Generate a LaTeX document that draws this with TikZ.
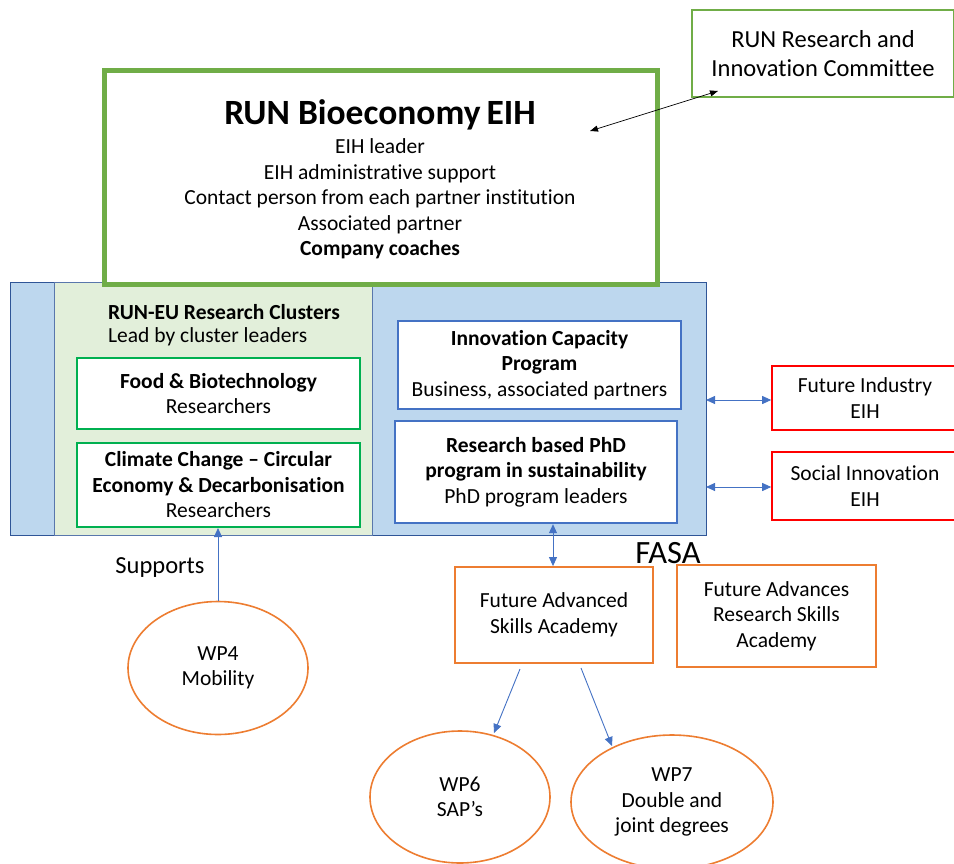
\documentclass[tikz,border=0pt]{standalone}
\usepackage{fontspec}
\setmainfont{Carlito}[Ligatures=NoCommon]
\usetikzlibrary{shapes.geometric,arrows.meta}
\definecolor{eihgreen}{HTML}{70AD47}
\definecolor{clgreen}{HTML}{00B050}
\definecolor{bblue}{HTML}{4472C4}
\definecolor{dblue}{HTML}{2F5597}
\definecolor{lblue}{HTML}{BDD7EE}
\definecolor{lgreen}{HTML}{E2EFDA}
\definecolor{oorange}{HTML}{ED7D31}
\definecolor{rred}{HTML}{FF0000}
\tikzset{
  txt/.style={font=\fontsize{21.5}{25.5}\selectfont, align=center, inner sep=0pt},
  boxbase/.style={txt, draw, fill=white, rectangle},
  clbox/.style={boxbase, draw=clgreen, line width=2pt},
  bbox/.style={boxbase, draw=bblue, line width=2.4pt},
  rbox/.style={boxbase, draw=rred, line width=1.6pt},
  obox/.style={boxbase, draw=oorange, line width=1.8pt},
  wpell/.style={txt, draw=oorange, line width=1.6pt, fill=white, ellipse},
  barrow/.style={draw=bblue, line width=0.9pt, -{Triangle[length=9pt,width=8pt]}},
  bdarrow/.style={draw=bblue, line width=0.9pt, {Triangle[length=9pt,width=8pt]}-{Triangle[length=9pt,width=8pt]}},
}
\begin{document}
\begin{tikzpicture}[x=1pt,y=-1pt]
\useasboundingbox (0,0) rectangle (954,863);
% outer blue panel
\node[draw=dblue, fill=lblue, line width=1pt, minimum width=696pt, minimum height=253pt, inner sep=0pt] (outer) at (358,408.5) {};
% cluster panel
\node[draw=dblue!80, fill=lgreen, line width=1pt, minimum width=318pt, minimum height=253pt, inner sep=0pt] (panel) at (213,408.5) {};
% main EIH box
\node[draw=eihgreen, fill=white, line width=5pt, minimum width=553pt, minimum height=214pt, inner sep=0pt] (eih) at (380.5,177) {};
\node[txt, font=\fontsize{35.5}{38}\selectfont\bfseries] (eihtitle) at (380,115) {RUN Bioeconomy\kern-2pt{} EIH};
\node[txt] (eihlist) at (380,199) {EIH leader\\EIH administrative support\\Contact person from each partner institution\\Associated partner\\\textbf{Company coaches}};
% committee
\node[boxbase, draw=eihgreen, line width=1.5pt, font=\fontsize{24.5}{29}\selectfont, minimum width=262pt, minimum height=87pt] (comm) at (823,53.5) {RUN Research and\\Innovation Committee};
\coordinate (eiharrow) at (590,131);
\coordinate (commarrow) at (718,91);
\draw[black, line width=0.7pt, {Triangle[length=8pt,width=6pt]}-{Triangle[length=8pt,width=6pt]}] (eiharrow) -- (commarrow);
% clusters
\node[txt, font=\fontsize{21.5}{25.5}\selectfont\bfseries, anchor=west] (cltitle) at (108,312) {RUN-EU Research Clusters};
\node[txt, anchor=west] (clsub) at (108,337) {Lead by cluster leaders};
\node[clbox, minimum width=283pt, minimum height=71pt] (food) at (218.5,393.5) {\textbf{Food \& Biotechnology}\\Researchers};
\node[clbox, minimum width=283pt, minimum height=84pt] (climate) at (218.5,485) {\textbf{Climate Change -- Circular}\\\textbf{Economy \& Decarbonisation}\\Researchers};
% programs
\node[bbox, minimum width=283pt, minimum height=88pt] (icp) at (539.5,365) {\textbf{Innovation Capacity}\\\textbf{Program}\\Business, associated partners};
\node[bbox, minimum width=282pt, minimum height=102pt] (phd) at (536,472) {\textbf{Research based PhD}\\\textbf{program in sustainability}\\PhD program leaders};
% EIHs
\node[rbox, minimum width=186pt, minimum height=64pt] (fi) at (865,398) {Future Industry\\EIH};
\node[rbox, minimum width=186pt, minimum height=68pt] (si) at (865,486) {Social Innovation\\EIH};
\coordinate (o1) at (706,400);
\coordinate (o2) at (706,487);
\draw[bdarrow] (o1) -- (fi.west |- o1);
\draw[bdarrow] (o2) -- (si.west |- o2);
% FASA
\node[txt, font=\fontsize{32.5}{34}\selectfont] (fasalabel) at (668,553) {FASA};
\node[obox, minimum width=198pt, minimum height=96pt] (fasa) at (554,615) {Future Advanced\\Skills Academy};
\node[obox, minimum width=199pt, minimum height=102pt] (farsa) at (776.5,616) {Future Advances\\Research Skills\\Academy};
\coordinate (vx) at (553,500);
\draw[bdarrow] (phd.south -| vx) -- (fasa.north -| vx);
% WPs
\node[wpell, minimum width=180pt, minimum height=133pt] (wp4) at (218,668) {WP4\\Mobility};
\node[wpell, minimum width=180pt, minimum height=132pt] (wp6) at (460,797) {WP6\\SAP’s};
\node[wpell, minimum width=202pt, minimum height=134pt] (wp7) at (672,802) {WP7\\Double and\\joint degrees};
\draw[barrow] (wp4.north) -- (climate.south -| wp4.north);
\node[txt, font=\fontsize{24.5}{28}\selectfont] (supports) at (160,568) {Supports};
\coordinate (fa1) at (520,669);
\coordinate (fa2) at (581,668);
\coordinate (w6in) at (494,733);
\coordinate (w7in) at (612,746);
\draw[barrow] (fa1) -- (w6in);
\draw[barrow] (fa2) -- (w7in);
\end{tikzpicture}
\end{document}
